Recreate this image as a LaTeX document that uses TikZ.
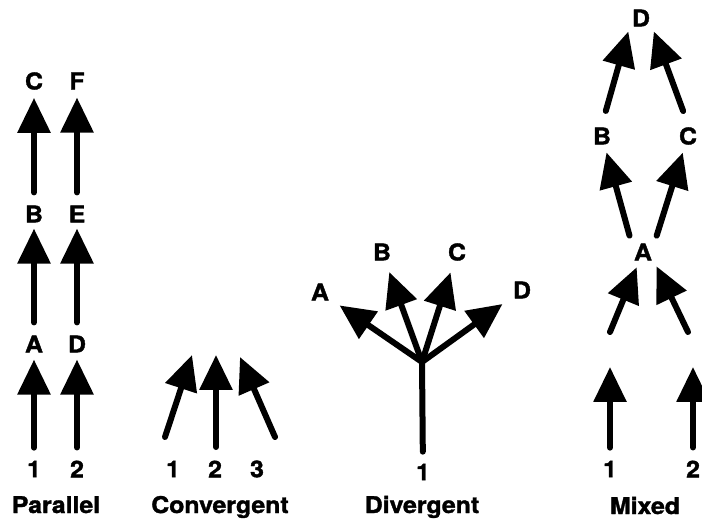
\documentclass[tikz,border=0pt]{standalone}
\usepackage{fontspec}
\setmainfont{TeX Gyre Heros}[FakeStretch=1.08,FakeBold=1.6]
\usetikzlibrary{arrows.meta}
\begin{document}
\begin{tikzpicture}[x=1pt,y=-1pt,
  lbl/.style={font=\bfseries\fontsize{23}{23}\selectfont,inner sep=3pt},
  caption/.style={lbl,anchor=base},
  arr/.style={line width=6pt,line cap=round,-{Triangle[length=35pt,width=32pt]}},
]
\useasboundingbox (0,0) rectangle (702,521);

% parallel
\node[lbl] (p1) at (34,469) {1};
\node[lbl] (p2) at (77,469) {2};
\node[lbl] (pA) at (34,344) {A};
\node[lbl] (pD) at (77,344) {D};
\node[lbl] (pB) at (34,214) {B};
\node[lbl] (pE) at (77,214) {E};
\node[lbl] (pC) at (34,81) {C};
\node[lbl] (pF) at (77,81) {F};
\node[caption] (parallel) at (56,513) {Parallel};
\draw[arr, shorten <=10pt, shorten >=4pt] (p1) -- (pA);
\draw[arr, shorten <=10pt, shorten >=4pt] (p2) -- (pD);
\draw[arr, shorten <=10pt, shorten >=3pt] (pA) -- (pB);
\draw[arr, shorten <=10pt, shorten >=3pt] (pD) -- (pE);
\draw[arr, shorten <=10pt, shorten >=5pt] (pB) -- (pC);
\draw[arr, shorten <=10pt, shorten >=5pt] (pE) -- (pF);

% convergent
\node[lbl] (c1) at (173,469) {1};
\node[lbl] (c2) at (215,469) {2};
\node[lbl] (c3) at (257,469) {3};
\node[caption] (convergent) at (220,513) {Convergent};
\coordinate (c1t) at (165,437);
\coordinate (c2t) at (216,447);
\coordinate (c3t) at (275,437);
\coordinate (c1h) at (192,355);
\coordinate (c2h) at (216,355);
\coordinate (c3h) at (240,357);
\draw[arr] (c1t) -- (c1h);
\draw[arr] (c2t) -- (c2h);
\draw[arr] (c3t) -- (c3h);

% divergent
\node[lbl] (d1) at (423,472) {1};
\node[caption] (divergent) at (422,513) {Divergent};
\coordinate (dj) at (422,362);
\node[lbl] (dA) at (320,292) {A};
\node[lbl] (dB) at (382,252) {B};
\node[lbl] (dC) at (457,252) {C};
\node[lbl] (dD) at (522,290) {D};
\draw[line width=6pt, line cap=round, shorten <=9pt] (d1) -- (dj);
\foreach \n in {dA,dB,dC,dD}
  \draw[arr, shorten >=9pt] (dj) -- (\n);

% mixed
\node[lbl] (m1) at (610,469) {1};
\node[lbl] (m2) at (693,469) {2};
\node[caption] (mixed) at (645,514) {Mixed};
\node[lbl] (mA) at (643,252) {A};
\node[lbl] (mB) at (602,136) {B};
\node[lbl] (mC) at (688,136) {C};
\node[lbl] (mD) at (641,18) {D};
\coordinate (mv1) at (610,367);
\coordinate (mv2) at (693,367);
\coordinate (md1) at (610,332);
\coordinate (md2) at (688,332);
\draw[arr, shorten <=10pt] (m1) -- (mv1);
\draw[arr, shorten <=10pt] (m2) -- (mv2);
\draw[arr, shorten >=4pt] (md1) -- (mA);
\draw[arr, shorten >=3pt] (md2) -- (mA.south east);
\draw[arr, shorten <=5pt, shorten >=5pt] (mA.north west) -- (mB);
\draw[arr, shorten <=5pt, shorten >=5pt] (mA.north east) -- (mC);
\draw[arr, shorten <=14pt, shorten >=2pt] (mB.north) -- (mD.south west);
\draw[arr, shorten <=14pt, shorten >=2pt] (mC.north) -- (mD.south east);
\end{tikzpicture}
\end{document}
